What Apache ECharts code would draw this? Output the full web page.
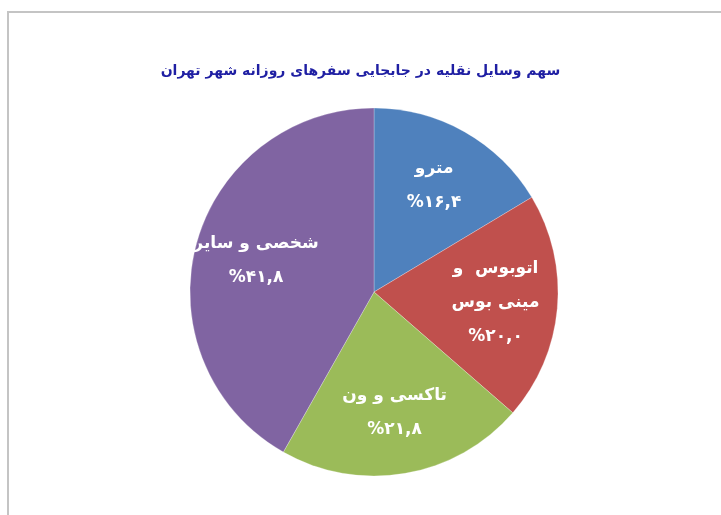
<!DOCTYPE html>
<html>
<head>
<meta charset="utf-8">
<script src="https://cdn.jsdelivr.net/npm/echarts@6/dist/echarts.min.js"></script>
<style>
html,body{margin:0;padding:0;background:#fff;}
#c{width:721px;height:515px;}
</style>
</head>
<body>
<div id="c"></div>
<script>
const titleText = 'سهم وسایل نقلیه در جابجایی سفرهای روزانه شهر تهران';
const categories = ['مترو', 'اتوبوس  و\nمینی بوس', 'تاکسی و ون', 'شخصی و سایر'];
const values = [16.4, 20.0, 21.8, 41.8];
const valueLabels = ['%۱۶,۴', '%۲۰,۰', '%۲۱,۸', '%۴۱,۸'];
const colors = ['#4F81BD', '#C0504D', '#9BBB59', '#8064A2'];

const chart = echarts.init(document.getElementById('c'));
const data = categories.map((n, i) => ({ name: n, value: values[i], itemStyle: { color: colors[i] } }));
const labelData = categories.map((n, i) => ({ name: n, value: values[i] }));

chart.setOption({
  animation: false,
  backgroundColor: '#fff',
  title: {
    text: titleText,
    left: 'center',
    top: 59,
    textStyle: { fontFamily: 'DejaVu Sans', fontWeight: 'bold', fontSize: 14, color: '#1F1FA3' }
  },
  graphic: [{
    type: 'rect',
    shape: { x: 8, y: 12, width: 900, height: 700 },
    style: { fill: 'none', stroke: '#c4c4c4', lineWidth: 2 },
    silent: true
  }],
  series: [
    {
      type: 'pie',
      center: [374, 292],
      radius: [0, 184],
      startAngle: 90,
      clockwise: true,
      label: { show: false },
      labelLine: { show: false },
      itemStyle: { borderColor: 'rgba(255,255,255,0.5)', borderWidth: 0.5 },
      data: data,
      silent: true
    },
    {
      type: 'pie',
      center: [374, 292],
      radius: [54, 184],
      startAngle: 90,
      clockwise: true,
      itemStyle: { color: 'rgba(0,0,0,0)' },
      label: {
        show: true,
        position: 'inside',
        formatter: p => p.name + '\n' + valueLabels[p.dataIndex],
        color: '#fff',
        fontFamily: 'DejaVu Sans',
        fontWeight: 'bold',
        fontSize: 17,
        lineHeight: 34,
        align: 'center'
      },
      labelLine: { show: false },
      data: labelData,
      silent: true
    }
  ]
});
</script>
</body>
</html>
